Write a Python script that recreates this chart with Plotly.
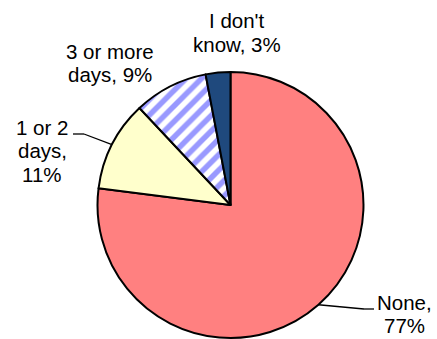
import math
import plotly.graph_objects as go

# Survey answers, drawn clockwise from 12 o'clock
categories = ["None", "1 or 2 days", "3 or more days", "I don't know"]
shares = [77, 11, 9, 3]
label_lines = [["None,", "77%"], ["1 or 2", "days,", "11%"], ["3 or more", "days, 9%"], ["I don't", "know, 3%"]]
colors = ["#FF8080", "#FFFFCC", "#FFFFFF", "#1F497D"]
patterns = ["", "", "/", ""]

W, H = 437, 339
dom_x = [0.2231, 0.8318]
dom_y = [0.003, 0.7876]

fig = go.Figure(
    go.Pie(
        labels=categories,
        values=shares,
        sort=False,
        direction="clockwise",
        rotation=0,
        textinfo="none",
        hoverinfo="label+percent",
        marker=dict(
            colors=colors,
            line=dict(color="black", width=2),
            pattern=dict(shape=patterns, fgcolor="#9999FF", size=11, solidity=0.5),
        ),
        domain=dict(x=dom_x, y=dom_y),
        showlegend=False,
    )
)

# Pie geometry in pixels, used to anchor the leader lines on slice edges
cx = (dom_x[0] + dom_x[1]) / 2 * W
cy = H - (dom_y[0] + dom_y[1]) / 2 * H
r = min((dom_x[1] - dom_x[0]) * W, (dom_y[1] - dom_y[0]) * H) / 2
total = sum(shares)


def edge_point(i):
    start = sum(shares[:i]) / total
    mid = (start + shares[i] / (2 * total)) * 2 * math.pi
    return cx + r * math.sin(mid), cy - r * math.cos(mid)


def px(x, y):
    return x / W, 1 - y / H


font = dict(family="Liberation Sans, Arial, sans-serif", size=20.5, color="black")
line_gap = 23.8

# Centre of each label's first line (pixels) and leader-line elbows
label_pos = [(404, 302), (42, 127), (110, 51), (237, 21)]
elbows = {0: [(364, 309), (374, 309)], 1: [(84, 134), (73, 134)]}

for i, lines in enumerate(label_lines):
    x0, y0 = label_pos[i]
    for k, txt in enumerate(lines):
        x, y = px(x0, y0 + k * line_gap)
        fig.add_annotation(
            x=x, y=y, xref="paper", yref="paper", text=txt, showarrow=False,
            xanchor="center", yanchor="middle", align="center", font=font,
        )

for i, pts in elbows.items():
    chain = [edge_point(i)] + pts
    for (x0, y0), (x1, y1) in zip(chain[:-1], chain[1:]):
        a0, b0 = px(x0, y0)
        a1, b1 = px(x1, y1)
        fig.add_shape(
            type="line", xref="paper", yref="paper",
            x0=a0, y0=b0, x1=a1, y1=b1, line=dict(color="black", width=1.3),
        )

fig.update_layout(
    width=W, height=H,
    margin=dict(l=0, r=0, t=0, b=0),
    paper_bgcolor="white",
    plot_bgcolor="white",
)

fig.write_html("out.html")
